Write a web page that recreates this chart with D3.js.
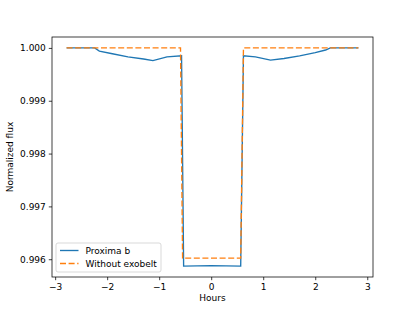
<!DOCTYPE html>
<html>
<head>
<meta charset="utf-8">
<script src="https://cdn.jsdelivr.net/npm/d3@7"></script>
<style>
  body { margin: 0; background: #fff; }
  text { font-family: "DejaVu Sans", sans-serif; }
</style>
</head>
<body>
<svg id="chart" width="415" height="311"></svg>
<script>
// Proxima b light curve (hours, normalized flux)
const proximaHours = [-2.78, -2.24, -2.15, -1.9, -1.6, -1.3, -1.12, -0.85, -0.57, -0.53, 0, 0.567, 0.62, 0.85, 1.14, 1.4, 1.7, 2.0, 2.2, 2.29, 2.83];
const proximaFlux  = [1.0, 1.0, 0.99994, 0.99989, 0.99983, 0.99979, 0.99976, 0.99983, 0.99985, 0.99587, 0.99588, 0.99587, 0.99985, 0.99983, 0.99977, 0.9998, 0.99985, 0.99991, 0.99996, 1.0, 1.0];

// same transit without the exobelt
const plainHours = [-2.78, -0.59, -0.55, 0.567, 0.62, 2.83];
const plainFlux  = [1.0, 1.0, 0.99602, 0.99602, 1.0, 1.0];

const seriesNames = ["Proxima b", "Without exobelt"];
const xTicks = [-3, -2, -1, 0, 1, 2, 3];
const yTicks = [0.996, 0.997, 0.998, 0.999, 1.0];

const svg = d3.select("#chart");
const margin = { left: 52, right: 42, top: 37, bottom: 34 };
const W = 415, H = 311;

// matplotlib style 5% padding
const allX = proximaHours.concat(plainHours);
const allY = proximaFlux.concat(plainFlux);
const xMin = d3.min(allX), xMax = d3.max(allX);
const yMin = d3.min(allY), yMax = d3.max(allY);
const xPad = (xMax - xMin) * 0.05, yPad = (yMax - yMin) * 0.05;

const x = d3.scaleLinear()
  .domain([xMin - xPad, xMax + xPad])
  .range([margin.left, W - margin.right]);
const y = d3.scaleLinear()
  .domain([yMin - yPad, yMax + yPad])
  .range([H - margin.bottom, margin.top]);

const minus = s => s.replace("-", "\u2212");
const dashed = "6 2.6";

// lines
const line = d3.line().x(d => x(d[0])).y(d => y(d[1]));
const proxima = d3.zip(proximaHours, proximaFlux);
const plain = d3.zip(plainHours, plainFlux);

const plot = svg.append("g");
plot.append("path")
  .datum(proxima)
  .attr("d", line)
  .attr("fill", "none")
  .attr("stroke", "#1f77b4")
  .attr("stroke-width", 1.35);
plot.append("path")
  .datum(plain)
  .attr("d", line)
  .attr("fill", "none")
  .attr("stroke", "#ff7f0e")
  .attr("stroke-width", 1.35)
  .attr("stroke-dasharray", dashed);

// axes
const xAxis = svg.append("g")
  .attr("transform", `translate(0,${H - margin.bottom})`)
  .call(d3.axisBottom(x).tickValues(xTicks).tickSize(3.2).tickPadding(3)
    .tickFormat(d => minus(d3.format("d")(d))));
const yAxis = svg.append("g")
  .attr("transform", `translate(${margin.left},0)`)
  .call(d3.axisLeft(y).tickValues(yTicks).tickSize(3.2).tickPadding(3)
    .tickFormat(d3.format(".3f")));

[xAxis, yAxis].forEach(g => {
  g.select(".domain").remove();
  g.selectAll("line").attr("stroke", "#000").attr("stroke-width", 0.75);
  g.selectAll("text").attr("fill", "#000").style("font-size", "9px")
    .style("font-family", "DejaVu Sans, sans-serif");
});

// frame
svg.append("rect")
  .attr("x", margin.left)
  .attr("y", margin.top)
  .attr("width", W - margin.left - margin.right)
  .attr("height", H - margin.top - margin.bottom)
  .attr("fill", "none")
  .attr("stroke", "#000")
  .attr("stroke-width", 0.75);

// labels
svg.append("text")
  .attr("x", (margin.left + W - margin.right) / 2)
  .attr("y", 301)
  .attr("text-anchor", "middle")
  .style("font-size", "9px")
  .text("Hours");
svg.append("text")
  .attr("transform", `translate(12.5,${(margin.top + H - margin.bottom) / 2}) rotate(-90)`)
  .attr("text-anchor", "middle")
  .style("font-size", "9px")
  .text("Normalized flux");

// legend
const legend = svg.append("g").attr("transform", "translate(56,243)");
legend.append("rect")
  .attr("width", 105)
  .attr("height", 29)
  .attr("rx", 2)
  .attr("fill", "#fff")
  .attr("fill-opacity", 0.8)
  .attr("stroke", "#ccc")
  .attr("stroke-width", 0.75);

const styles = [
  { color: "#1f77b4", dash: null },
  { color: "#ff7f0e", dash: dashed }
];
seriesNames.forEach((name, i) => {
  const row = legend.append("g").attr("transform", `translate(0,${7.5 + i * 13})`);
  row.append("line")
    .attr("x1", 4).attr("x2", 22.5)
    .attr("stroke", styles[i].color)
    .attr("stroke-width", 1.35)
    .attr("stroke-dasharray", styles[i].dash);
  row.append("text")
    .attr("x", 29.5)
    .attr("dy", "0.35em")
    .style("font-size", "9px")
    .text(name);
});
</script>
</body>
</html>
